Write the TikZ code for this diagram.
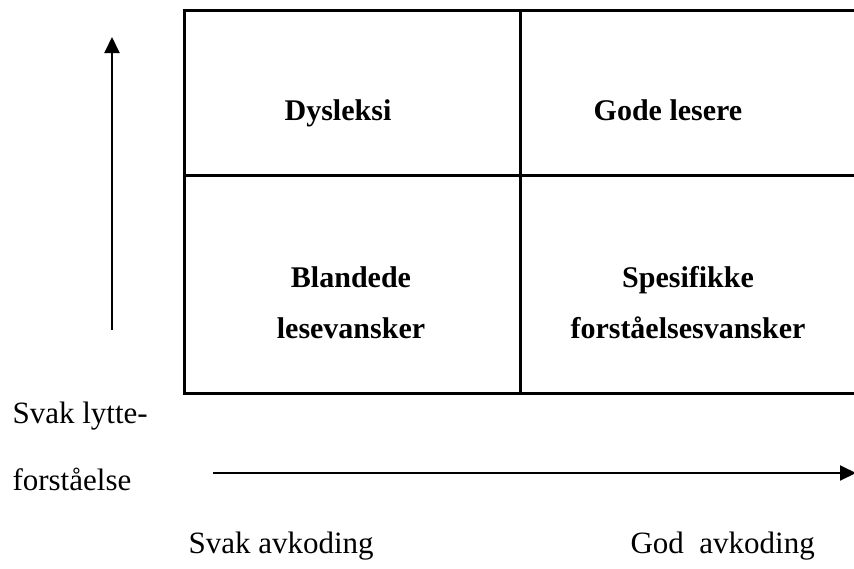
\documentclass[tikz,border=0pt]{standalone}
\usepackage{fontspec}
\setmainfont{Liberation Serif}
\usetikzlibrary{arrows.meta}
\begin{document}
\begin{tikzpicture}[x=1pt,y=-1pt,
  cell/.style={anchor=base,font=\fontsize{30}{36}\selectfont\bfseries},
  axis/.style={anchor=base west,font=\fontsize{31}{37}\selectfont},
  pil/.style={line width=2pt,-{Triangle[length=16pt,width=15pt]}}]
\useasboundingbox (0,0) rectangle (854,568);
\coordinate (TL) at (184,10);
\coordinate (TR) at (860,10);
\coordinate (BR) at (860,393);
\coordinate (BL) at (184,393);
\coordinate (ML) at (184,175);
\coordinate (MR) at (860,175);
\coordinate (MT) at (520,10);
\coordinate (MB) at (520,393);
\draw[line width=3pt] (TL) -- (TR) -- (BR) -- (BL) -- cycle;
\draw[line width=3pt] (ML) -- (MR);
\draw[line width=3pt] (MT) -- (MB);
\node[cell] (dys) at (338,120) {Dysleksi};
\node[cell] (gode) at (668,120) {Gode lesere};
\node[cell] (bland1) at (351,287) {Blandede};
\node[cell] (bland2) at (351,338) {lesevansker};
\node[cell] (spes1) at (688,287) {Spesifikke};
\node[cell] (spes2) at (688,338) {forståelsesvansker};
\coordinate (V0) at (112,330);
\coordinate (V1) at (112,37);
\draw[pil] (V0) -- (V1);
\coordinate (H0) at (213,473);
\coordinate (H1) at (856,473);
\draw[pil] (H0) -- (H1);
\node[axis] (lytte1) at (9,423) {Svak lytte-};
\node[axis] (lytte2) at (9,490) {forståelse};
\node[axis] (svak) at (185,553) {Svak avkoding};
\node[axis] (god) at (627,553) {God\ \ avkoding};
\end{tikzpicture}
\end{document}
